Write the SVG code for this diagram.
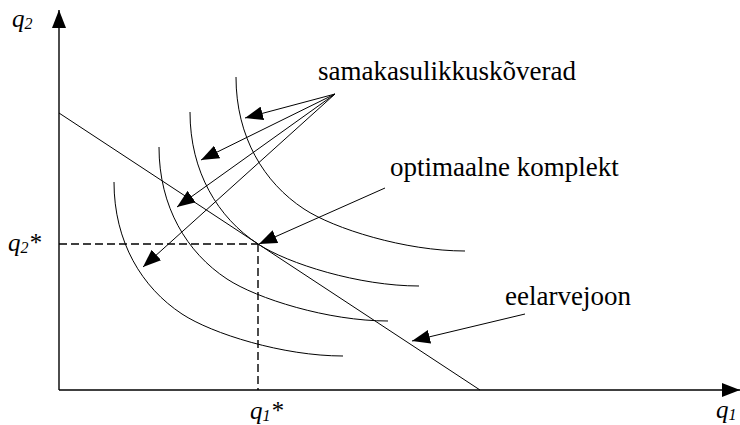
<svg xmlns="http://www.w3.org/2000/svg" xmlns:xlink="http://www.w3.org/1999/xlink" width="740" height="425" viewBox="0 0 740 425">
<style>
.ax{stroke:#000;stroke-width:1.4;fill:none}
.ln{stroke:#000;stroke-width:1;fill:none}
.dash{stroke:#000;stroke-width:1.4;fill:none;stroke-dasharray:8 4}
.lbl{font-size:27px;fill:#000}
.var{font-size:25px;font-style:italic;fill:#000}
.sub{font-size:16px}
</style>
<defs>
<marker id="ah" markerUnits="userSpaceOnUse" markerWidth="18" markerHeight="14" refX="18" refY="7" orient="auto">
<path d="M0,0 L18,7 L0,14 z" fill="#000"/>
</marker>
<path id="ic" d="M0,0 C0,60 28,105.7 68,132 C98,151.7 169,174 229,174" class="ln"/>
</defs>
<rect width="740" height="425" fill="#fff"/>
<g id="axes">
<line class="ax" x1="59" y1="390" x2="59" y2="10" marker-end="url(#ah)"/>
<line class="ax" x1="59" y1="390" x2="740" y2="390" marker-end="url(#ah)"/>
</g>
<g id="curves">
<use xlink:href="#ic" transform="translate(114,182)"/>
<use xlink:href="#ic" transform="translate(159,147)"/>
<use xlink:href="#ic" transform="translate(190,112)"/>
<use xlink:href="#ic" transform="translate(236,77)"/>
</g>
<g id="budget">
<line class="ln" x1="59" y1="113" x2="480" y2="390"/>
</g>
<g id="optimum">
<line class="dash" x1="59" y1="244" x2="258" y2="244"/>
<line class="dash" x1="258" y1="244" x2="258" y2="390"/>
</g>
<g id="connectors">
<line class="ln" x1="335" y1="94" x2="245" y2="118" marker-end="url(#ah)"/>
<line class="ln" x1="335" y1="94" x2="201" y2="160" marker-end="url(#ah)"/>
<line class="ln" x1="335" y1="94" x2="177" y2="207" marker-end="url(#ah)"/>
<line class="ln" x1="335" y1="94" x2="143" y2="267" marker-end="url(#ah)"/>
<line class="ln" x1="385" y1="188" x2="259" y2="244" marker-end="url(#ah)"/>
<line class="ln" x1="525" y1="314" x2="412" y2="341" marker-end="url(#ah)"/>
</g>
<g id="labels" font-family="'Liberation Serif', 'DejaVu Serif', serif">
<text class="lbl" x="318" y="80">samakasulikkuskõverad</text>
<text class="lbl" x="390" y="176">optimaalne komplekt</text>
<text class="lbl" x="505" y="305">eelarvejoon</text>
<text class="var" x="12" y="27">q<tspan class="sub" dy="2">2</tspan></text>
<text class="var" x="8" y="251">q<tspan class="sub" dy="2">2</tspan><tspan dy="-2">*</tspan></text>
<text class="var" x="250" y="419">q<tspan class="sub" dy="2">1</tspan><tspan dy="-2">*</tspan></text>
<text class="var" x="716" y="418">q<tspan class="sub" dy="2">1</tspan></text>
</g>
</svg>
